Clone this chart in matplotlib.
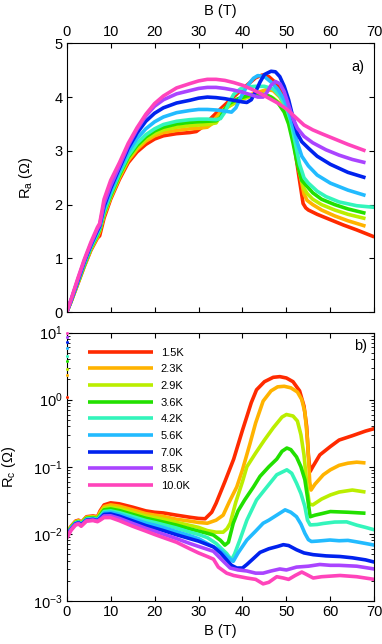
import matplotlib
matplotlib.use("Agg")
import matplotlib.pyplot as plt
from matplotlib.ticker import LogLocator, NullFormatter, MultipleLocator

plt.rcParams['font.family'] = ['Liberation Sans', 'DejaVu Sans']
plt.rcParams['mathtext.fontset'] = 'custom'
plt.rcParams['mathtext.rm'] = 'Liberation Sans'
plt.rcParams['mathtext.it'] = 'Liberation Sans:italic'

# ---------------- data ----------------
temps = ['1.5K', '2.3K', '2.9K', '3.6K', '4.2K', '5.6K', '7.0K', '8.5K', '10.0K']
temp_values = [1.1, 2.3, 2.9, 3.7, 4.4, 5.9, 7.1, 8.7, 9.8]
colors = ['#FF2A00', '#FFB300', '#BBEE00', '#22E000', '#33F5BB',
          '#22BBFF', '#0022EE', '#AA44FF', '#FF44BB']

# panel a) R_a vs B : shared low-field grid + per-series high-field points
ra_low_b = [0, 1, 2.5, 4, 5.5, 7, 7.5, 8.5, 10, 12, 14, 16, 18, 20, 22, 25, 28]
ra_low_15 = [0, 0.2, 0.52, 0.85, 1.15, 1.38, 1.42, 1.75, 2.1, 2.47, 2.78, 2.98, 3.12, 3.22, 3.28, 3.32, 3.34]
ra_low_23 = [0, 0.2, 0.53, 0.86, 1.17, 1.4, 1.5, 1.8, 2.13, 2.5, 2.82, 3.03, 3.18, 3.28, 3.34, 3.38, 3.41]
ra_low_29 = [0, 0.2, 0.54, 0.87, 1.18, 1.42, 1.52, 1.82, 2.15, 2.53, 2.85, 3.07, 3.22, 3.32, 3.39, 3.44, 3.47]
ra_low_36 = [0, 0.21, 0.55, 0.88, 1.2, 1.44, 1.54, 1.85, 2.17, 2.55, 2.88, 3.1, 3.26, 3.37, 3.44, 3.5, 3.53]
ra_low_42 = [0, 0.21, 0.56, 0.9, 1.21, 1.46, 1.56, 1.87, 2.2, 2.58, 2.91, 3.14, 3.3, 3.41, 3.49, 3.55, 3.58]
ra_low_56 = [0, 0.22, 0.57, 0.92, 1.23, 1.5, 1.58, 1.92, 2.25, 2.63, 2.98, 3.23, 3.41, 3.54, 3.63, 3.71, 3.75]
ra_low_70 = [0, 0.22, 0.58, 0.94, 1.25, 1.52, 1.6, 1.97, 2.3, 2.68, 3.05, 3.33, 3.55, 3.7, 3.8, 3.89, 3.94]
ra_low_85 = [0, 0.23, 0.6, 0.96, 1.27, 1.55, 1.62, 2.02, 2.35, 2.72, 3.1, 3.4, 3.65, 3.83, 3.95, 4.06, 4.12]
ra_low_100 = [0, 0.24, 0.62, 0.98, 1.3, 1.58, 1.65, 2.1, 2.45, 2.78, 3.14, 3.43, 3.68, 3.88, 4.02, 4.17, 4.25]

ra_hb_15 = [29.5, 31, 33, 35, 37, 39, 41, 43, 44.5, 46, 47.5, 48.5, 49.5, 50.8, 51.8, 52.8, 53.8, 54.4, 55, 57, 60, 63, 66, 70]
ra_hi_15 = [3.36, 3.45, 3.62, 3.78, 3.93, 4.08, 4.22, 4.36, 4.41, 4.38, 4.27, 4.15, 3.95, 3.57, 3.1, 2.55, 2.02, 1.94, 1.9, 1.82, 1.72, 1.62, 1.53, 1.4]
ra_hb_23 = [30, 32, 33, 34, 35, 36, 38, 40, 42, 44, 45.5, 47, 48.5, 50, 51, 52, 53, 54, 54.7, 56, 58, 61, 64, 68]
ra_hi_23 = [3.42, 3.44, 3.5, 3.62, 3.72, 3.79, 3.88, 3.97, 4.05, 4.1, 4.14, 4.12, 4.0, 3.78, 3.5, 3.1, 2.6, 2.2, 2.08, 2.0, 1.9, 1.79, 1.7, 1.6]
ra_hb_29 = [30, 32, 34, 35, 36, 38, 40, 42, 44, 45.5, 47, 48.5, 50, 51, 52, 53, 54, 54.8, 56, 58, 61, 64, 68]
ra_hi_29 = [3.48, 3.49, 3.52, 3.65, 3.78, 3.88, 3.96, 4.02, 4.05, 4.04, 3.98, 3.88, 3.68, 3.42, 3.05, 2.6, 2.3, 2.2, 2.1, 2.0, 1.9, 1.82, 1.74]
ra_hb_36 = [30, 32, 34, 35, 36, 37, 39, 41, 43, 45, 46.5, 48, 49.5, 50.5, 51.5, 52.5, 53.5, 54.8, 56, 58, 61, 64, 68]
ra_hi_36 = [3.54, 3.55, 3.56, 3.62, 3.78, 3.88, 3.97, 4.02, 4.05, 4.05, 4.0, 3.9, 3.72, 3.5, 3.15, 2.75, 2.45, 2.33, 2.22, 2.1, 2.0, 1.92, 1.84]
ra_hb_42 = [30, 32, 34, 35, 36, 37, 38, 39.5, 41, 43, 45, 47, 48.5, 50, 51, 52, 53, 54, 55, 57, 59, 62, 66, 70]
ra_hi_42 = [3.59, 3.59, 3.58, 3.6, 3.72, 3.9, 4.05, 4.15, 4.19, 4.2, 4.2, 4.15, 4.02, 3.8, 3.55, 3.15, 2.75, 2.5, 2.4, 2.25, 2.15, 2.05, 1.98, 1.95]
ra_hb_56 = [30, 32, 34, 36, 37.5, 38.5, 39.5, 41, 42.5, 43.5, 45, 46.5, 48, 49.5, 50.5, 51.5, 52.5, 53.5, 55, 57, 60, 64, 68]
ra_hi_56 = [3.77, 3.77, 3.76, 3.74, 3.72, 3.8, 3.98, 4.2, 4.35, 4.4, 4.38, 4.28, 4.15, 3.95, 3.75, 3.45, 3.15, 2.9, 2.72, 2.55, 2.4, 2.27, 2.17]
ra_hb_70 = [30, 32, 34, 36, 38, 40, 41, 42, 43, 44, 45, 46.5, 47.5, 48.5, 49.5, 50.5, 51.5, 52.5, 53.5, 55, 57, 60, 64, 68]
ra_hi_70 = [3.98, 4.0, 3.99, 3.97, 3.94, 3.91, 3.9, 3.95, 4.1, 4.28, 4.42, 4.48, 4.47, 4.38, 4.2, 3.95, 3.62, 3.32, 3.17, 3.05, 2.9, 2.75, 2.6, 2.5]
ra_hb_85 = [30, 32, 34, 36, 38, 40, 42, 43.5, 44.7, 45.5, 46.5, 47.5, 48.5, 49.5, 50.5, 51.5, 52.5, 54, 56, 59, 62, 65, 68]
ra_hi_85 = [4.16, 4.18, 4.18, 4.16, 4.13, 4.09, 4.04, 4.0, 4.0, 4.08, 4.22, 4.29, 4.25, 4.1, 3.85, 3.6, 3.42, 3.27, 3.15, 3.02, 2.92, 2.84, 2.78]
ra_hb_100 = [30, 32, 34, 36, 38, 40, 42, 44, 46, 48, 50, 52, 54, 56, 58, 61, 64, 68]
ra_hi_100 = [4.3, 4.33, 4.33, 4.31, 4.27, 4.22, 4.15, 4.07, 3.98, 3.89, 3.78, 3.63, 3.48, 3.39, 3.32, 3.22, 3.12, 3.0]

# panel b) R_c vs B : shared low-field grid + per-series high-field points
rc_low_b = [0, 1, 2, 2.7, 3.3, 4.5, 6, 7, 7.6, 8.5, 10, 12, 15, 18, 20, 22, 25, 28, 30]
rc_low_15 = [0.0105, 0.013, 0.0155, 0.016, 0.0148, 0.018, 0.0185, 0.018, 0.022, 0.027, 0.029, 0.028, 0.025, 0.022, 0.021, 0.0205, 0.019, 0.0177, 0.017]
rc_low_23 = [0.0104, 0.0128, 0.0152, 0.0157, 0.0146, 0.0177, 0.0181, 0.0176, 0.021, 0.0255, 0.027, 0.0258, 0.0228, 0.02, 0.019, 0.0182, 0.0165, 0.0155, 0.0148]
rc_low_29 = [0.0102, 0.0126, 0.015, 0.0155, 0.0144, 0.0173, 0.0177, 0.0172, 0.0198, 0.024, 0.025, 0.0238, 0.021, 0.0185, 0.0175, 0.0165, 0.0148, 0.0134, 0.0125]
rc_low_36 = [0.01, 0.0124, 0.0147, 0.0152, 0.0142, 0.017, 0.0174, 0.0168, 0.019, 0.0228, 0.0235, 0.0222, 0.0195, 0.0171, 0.016, 0.015, 0.0135, 0.0119, 0.011]
rc_low_42 = [0.0098, 0.0122, 0.0145, 0.015, 0.014, 0.0166, 0.017, 0.0164, 0.0182, 0.0215, 0.022, 0.0207, 0.0181, 0.0158, 0.0148, 0.0137, 0.0122, 0.0106, 0.0098]
rc_low_56 = [0.0096, 0.012, 0.0143, 0.0148, 0.0138, 0.0163, 0.0167, 0.0161, 0.0175, 0.0205, 0.021, 0.0195, 0.0168, 0.0145, 0.0135, 0.0124, 0.0108, 0.0094, 0.0085]
rc_low_70 = [0.0093, 0.0118, 0.0141, 0.0146, 0.0136, 0.016, 0.0164, 0.0158, 0.017, 0.0195, 0.0198, 0.0183, 0.0156, 0.0133, 0.0122, 0.0112, 0.0097, 0.0085, 0.0078]
rc_low_85 = [0.009, 0.0116, 0.0138, 0.0143, 0.0133, 0.0157, 0.0161, 0.0155, 0.0165, 0.0185, 0.0186, 0.017, 0.0143, 0.0121, 0.011, 0.0099, 0.0085, 0.0072, 0.0065]
rc_low_100 = [0.0086, 0.0113, 0.0135, 0.014, 0.013, 0.0155, 0.0158, 0.0152, 0.016, 0.0175, 0.0175, 0.0157, 0.013, 0.011, 0.0098, 0.0088, 0.0075, 0.006, 0.0052]

rc_hb_15 = [31.5, 33, 34, 36, 38, 40, 41, 42, 43.2, 45, 47, 48.5, 50, 51.5, 53, 54, 54.6, 55, 55.4, 56, 57.6, 60, 62, 65, 68, 70]
rc_hi_15 = [0.0168, 0.021, 0.0286, 0.06, 0.13, 0.35, 0.56, 0.9, 1.4, 1.85, 2.15, 2.2, 2.1, 1.85, 1.35, 0.8, 0.4, 0.15, 0.085, 0.1, 0.15, 0.2, 0.25, 0.29, 0.34, 0.37]
rc_hb_23 = [32, 34, 35.6, 37, 38.7, 40, 41.7, 43, 44.7, 46.5, 48, 49.5, 51, 52.5, 53.5, 54.2, 54.8, 55.3, 55.6, 56.5, 58.4, 60, 62, 64, 66, 68]
rc_hi_23 = [0.0144, 0.016, 0.019, 0.03, 0.05, 0.09, 0.22, 0.45, 0.95, 1.35, 1.55, 1.58, 1.5, 1.3, 1.0, 0.65, 0.25, 0.06, 0.045, 0.055, 0.076, 0.09, 0.105, 0.113, 0.117, 0.114]
rc_hb_29 = [32, 34, 35.6, 36.5, 37.2, 38.5, 40, 41, 43, 45, 47, 49, 50, 51.5, 52.5, 53.3, 54, 54.7, 55.2, 56, 58, 60, 62, 65, 68]
rc_hi_29 = [0.0112, 0.0106, 0.0106, 0.012, 0.0144, 0.03, 0.06, 0.1, 0.16, 0.25, 0.38, 0.55, 0.6, 0.57, 0.48, 0.3, 0.15, 0.05, 0.028, 0.027, 0.033, 0.038, 0.042, 0.045, 0.042]
rc_hb_36 = [32, 33.4, 35, 36, 36.8, 37.9, 39, 40.5, 42.5, 44, 46, 47.8, 49, 50.1, 51, 52.3, 53.3, 54.2, 54.8, 55.4, 56.5, 58, 60, 64, 68]
rc_hi_36 = [0.0102, 0.0096, 0.008, 0.0068, 0.0075, 0.0144, 0.022, 0.032, 0.05, 0.072, 0.1, 0.13, 0.17, 0.19, 0.18, 0.14, 0.1, 0.064, 0.035, 0.018, 0.019, 0.02, 0.0215, 0.021, 0.0203]
rc_hb_42 = [32, 34, 35.5, 36.4, 37.5, 38.2, 39.4, 41, 43.2, 45, 47.8, 50.1, 51.2, 52.3, 53.3, 54.2, 54.8, 55.4, 57, 58.4, 61, 63.7, 66, 68, 70]
rc_hi_42 = [0.0088, 0.0072, 0.0058, 0.0051, 0.0041, 0.005, 0.0081, 0.016, 0.032, 0.045, 0.076, 0.09, 0.08, 0.057, 0.04, 0.0256, 0.016, 0.0136, 0.0138, 0.0143, 0.015, 0.0151, 0.0135, 0.0125, 0.0115]
rc_hb_56 = [32, 34.9, 36.5, 37.9, 39, 41, 43, 44.7, 46, 47.8, 49.7, 51, 52.3, 53.3, 54.2, 55, 55.7, 57, 59.9, 62, 64, 66, 68, 70]
rc_hi_56 = [0.0072, 0.0057, 0.0046, 0.0039, 0.0052, 0.0081, 0.011, 0.0144, 0.016, 0.019, 0.0228, 0.021, 0.018, 0.014, 0.0102, 0.0082, 0.0077, 0.0078, 0.0081, 0.0079, 0.008, 0.0076, 0.0072, 0.0068]
rc_hb_70 = [33.4, 35, 36.4, 37.5, 38.7, 40, 41, 42.5, 44, 46, 48, 49.3, 50.5, 52.3, 54, 56.1, 59, 62.2, 65, 68, 70]
rc_hi_70 = [0.0064, 0.0052, 0.0041, 0.0034, 0.0031, 0.0031, 0.0035, 0.0043, 0.0053, 0.006, 0.0065, 0.0069, 0.0067, 0.0058, 0.0052, 0.0049, 0.0047, 0.0046, 0.0044, 0.0041, 0.0038]
rc_hb_85 = [33.4, 35, 37.2, 39, 41, 43, 44.7, 46.5, 48.5, 50, 52.3, 55, 57.6, 60, 62, 66, 70]
rc_hi_85 = [0.0055, 0.0043, 0.0031, 0.0029, 0.0028, 0.0026, 0.0026, 0.0028, 0.003, 0.0029, 0.0032, 0.0033, 0.0035, 0.0034, 0.0034, 0.0033, 0.003]
rc_hb_100 = [32, 33.4, 34.5, 36.4, 38, 41, 43, 44.7, 46, 47.8, 49.3, 50.5, 52, 53.5, 54.5, 56.1, 58, 62.2, 66, 70]
rc_hi_100 = [0.0046, 0.0042, 0.0032, 0.0026, 0.0024, 0.0022, 0.0021, 0.0018, 0.0019, 0.0023, 0.0022, 0.0021, 0.0024, 0.0027, 0.0025, 0.0022, 0.0023, 0.0024, 0.0023, 0.0021]

ra_low = [ra_low_15, ra_low_23, ra_low_29, ra_low_36, ra_low_42, ra_low_56, ra_low_70, ra_low_85, ra_low_100]
ra_hb = [ra_hb_15, ra_hb_23, ra_hb_29, ra_hb_36, ra_hb_42, ra_hb_56, ra_hb_70, ra_hb_85, ra_hb_100]
ra_hi = [ra_hi_15, ra_hi_23, ra_hi_29, ra_hi_36, ra_hi_42, ra_hi_56, ra_hi_70, ra_hi_85, ra_hi_100]
rc_low = [rc_low_15, rc_low_23, rc_low_29, rc_low_36, rc_low_42, rc_low_56, rc_low_70, rc_low_85, rc_low_100]
rc_hb = [rc_hb_15, rc_hb_23, rc_hb_29, rc_hb_36, rc_hb_42, rc_hb_56, rc_hb_70, rc_hb_85, rc_hb_100]
rc_hi = [rc_hi_15, rc_hi_23, rc_hi_29, rc_hi_36, rc_hi_42, rc_hi_56, rc_hi_70, rc_hi_85, rc_hi_100]

# ---------------- figure ----------------
W, H = 382, 644
fig = plt.figure(figsize=(W / 100, H / 100), dpi=100)
L, Rr = 66.7 / W, 374.3 / W
axA = fig.add_axes([L, 1 - 312.2 / H, Rr - L, (312.2 - 43.3) / H])
axB = fig.add_axes([L, 1 - 601.0 / H, Rr - L, (601.0 - 332.5) / H])

LW = 2.6
for i in range(9):
    axA.plot(ra_low_b + ra_hb[i], ra_low[i] + ra_hi[i], color=colors[i], lw=LW,
             solid_capstyle='butt', solid_joinstyle='round')
    axB.plot(rc_low_b + rc_hb[i], rc_low[i] + rc_hi[i], color=colors[i], lw=LW,
             solid_capstyle='butt', solid_joinstyle='round', label=temps[i])
    axB.plot([0], [temp_values[i]], 'o', ms=2.2, color=colors[i], mec='none',
             clip_on=False, zorder=5)

FS = 10.5
# panel a
axA.set_xlim(0, 70)
axA.set_ylim(0, 5)
axA.xaxis.set_major_locator(MultipleLocator(10))
axA.yaxis.set_major_locator(MultipleLocator(1))
axA.tick_params(axis='both', which='both', direction='in', top=True, right=True,
                bottom=True, labelbottom=False, labeltop=True, length=3.5, width=0.8,
                labelsize=FS, pad=3)
axA.xaxis.set_label_position('top')
axA.set_xlabel('B (T)', fontsize=FS)
axA.xaxis.set_label_coords(0.5, 1.107)
axA.set_ylabel('R$_\\mathregular{a}$ (Ω)', fontsize=FS)
axA.yaxis.set_label_coords(-0.103, 0.5)
axA.text(0.947, 0.912, 'a)', transform=axA.transAxes, ha='center', va='center', fontsize=FS)

# panel b
axB.set_yscale('log')
axB.set_xlim(0, 70)
axB.set_ylim(1e-3, 10)
axB.xaxis.set_major_locator(MultipleLocator(10))
axB.yaxis.set_major_locator(LogLocator(base=10, numticks=10))
axB.yaxis.set_minor_locator(LogLocator(base=10, subs=range(2, 10), numticks=20))
axB.yaxis.set_minor_formatter(NullFormatter())
axB.tick_params(axis='both', which='major', direction='in', top=True, right=True,
                length=3.5, width=0.8, labelsize=FS, pad=3)
axB.tick_params(axis='both', which='minor', direction='in', top=True, right=True,
                length=2, width=0.6)
axB.set_xlabel('B (T)', fontsize=FS)
axB.xaxis.set_label_coords(0.5, -0.086)
axB.set_ylabel('R$_\\mathregular{c}$ (Ω)', fontsize=FS)
axB.yaxis.set_label_coords(-0.158, 0.5)
axB.text(0.955, 0.948, 'b)', transform=axB.transAxes, ha='center', va='center', fontsize=FS)

leg = axB.legend(loc='upper left', bbox_to_anchor=(0.069, 0.944), frameon=False,
                 fontsize=8, handlelength=5.9, handletextpad=0.65, labelspacing=0.6,
                 borderpad=0, borderaxespad=0)
for ln in leg.get_lines():
    ln.set_linewidth(2.6)

for ax in (axA, axB):
    for s in ax.spines.values():
        s.set_linewidth(0.8)

fig.savefig('out.png', dpi=100)
